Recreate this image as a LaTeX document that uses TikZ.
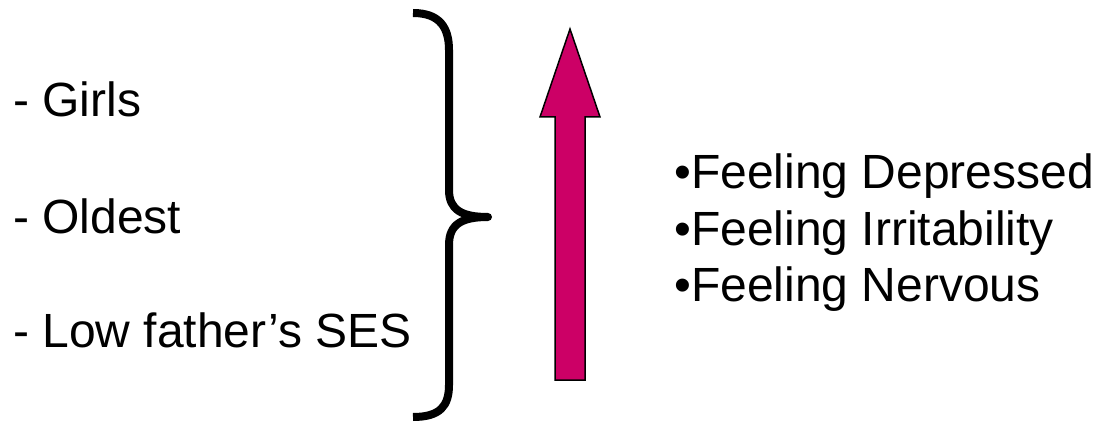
\documentclass[tikz,border=0pt]{standalone}
\usepackage{fontspec}
\setmainfont{Liberation Sans}
\usepackage{tikz}
\definecolor{arrowmagenta}{HTML}{CC0066}
\tikzset{
  item/.style={anchor=base west, inner sep=0pt, font=\fontsize{48}{56}\selectfont},
}

\begin{document}
\begin{tikzpicture}[x=1pt, y=-1pt]
\useasboundingbox (0,0) rectangle (1099,422);
\node[item] (girls) at (13,117) {- Girls};
\node[item] (oldest) at (13,233) {- Oldest};
\node[item] (lowses) at (13,347) {- Low father’s SES};
\draw[line width=8pt, line join=round] (413,13) .. controls (440,13) and (449,28) .. (449,50) -- (449,190)
  .. controls (449,210) and (462,217) .. (488,217) .. controls (462,217) and (449,224) .. (449,245)
  -- (449,385) .. controls (449,406) and (440,417) .. (413,417);
\draw[line width=1.5pt, fill=arrowmagenta] (570,29) -- (600,117) -- (585,117) -- (585,380) -- (555,380) -- (555,117) -- (540,117) -- cycle;
\node[item] (depressed) at (674,188) {•Feeling Depressed};
\node[item] (irritable) at (674,245) {•Feeling Irritability};
\node[item] (nervous) at (674,301) {•Feeling Nervous};
\end{tikzpicture}
\end{document}
